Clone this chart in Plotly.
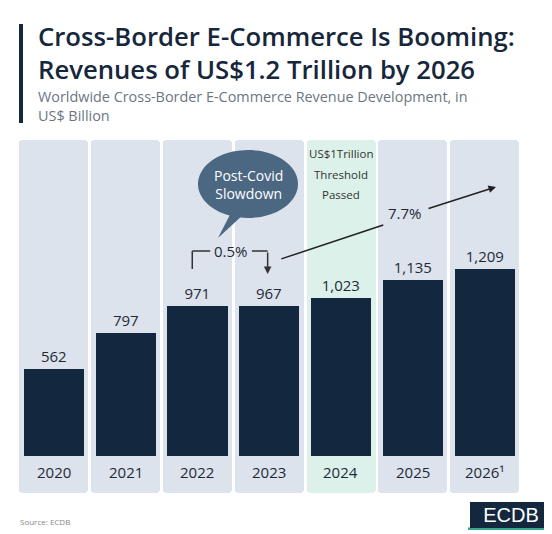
import plotly.graph_objects as go
import numpy as np

# the page puts the figure 8px in from the top-left corner
OFF = 8
W, H = 552 - OFF, 534 - OFF

years = ["2020", "2021", "2022", "2023", "2024", "2025", "2026"]
year_labels = ["2020", "2021", "2022", "2023", "2024", "2025", "2026¹"]
revenue = [562, 797, 971, 967, 1023, 1135, 1209]
highlight_year = "2024"

title = "Cross-Border E-Commerce Is Booming:<br>Revenues of US$1.2 Trillion by 2026"
subtitle = "Worldwide Cross-Border E-Commerce Revenue Development, in<br>US$ Billion"

NAVY = "#13273f"
COL_BG = "#dde3ec"
COL_HI = "#dcf1e9"
TXT = "#1f2a36"

# axis ranges chosen so the columns fill the same pixel box as the original
y_lo, y_hi = -239, 2041


def px(x, y):
    # screen pixel -> paper (margins are zero so paper == whole figure)
    return (x - OFF) / W, 1 - (y - OFF) / H


fig = go.Figure()

# light background columns
col_colors = [COL_HI if y == highlight_year else COL_BG for y in years]
fig.add_trace(go.Bar(
    x=years, y=[y_hi - y_lo] * len(years), base=y_lo, width=0.96,
    marker=dict(color=col_colors, line=dict(width=0)),
    hoverinfo="skip",
))

# revenue bars
fig.add_trace(go.Bar(
    x=years, y=revenue, width=0.84,
    marker=dict(color=NAVY, line=dict(width=0)),
    texttemplate="%{y:,}", textposition="outside",
    textfont=dict(family="Open Sans", size=15, color=TXT),
    cliponaxis=False,
))

ann = []
# year labels inside the columns
for i, lab in enumerate(year_labels):
    ann.append(dict(x=i, y=-103, xref="x", yref="y", text=lab, showarrow=False,
                    font=dict(family="Open Sans", size=15, color=TXT)))

# threshold note in the 2024 column
for txt, yy in [("US$1Trillion", 154), ("Threshold", 175), ("Passed", 195)]:
    ann.append(dict(x=years.index(highlight_year), y=(456 - yy) / 0.1548, xref="x", yref="y",
                    text=txt, showarrow=False,
                    font=dict(family="Open Sans", size=11.5, color="#333333")))

# 0.5% bracket 2022 -> 2023
shapes = []
line_style = dict(color="#333333", width=1.5)
shapes.append(dict(type="line", xref="x", yref="y", x0=1.93, y0=1208, x1=1.93, y1=1324, line=line_style))
shapes.append(dict(type="line", xref="x", yref="y", x0=1.93, y0=1324, x1=2.18, y1=1324, line=line_style))
shapes.append(dict(type="line", xref="x", yref="y", x0=2.76, y0=1324, x1=2.98, y1=1324, line=line_style))
ann.append(dict(x=2.98, y=1176, ax=2.98, ay=1324, xref="x", yref="y", axref="x", ayref="y",
                text="", showarrow=True, arrowhead=2, arrowsize=1, arrowwidth=1.5, arrowcolor="#333333"))
ann.append(dict(x=2.47, y=1324, xref="x", yref="y", text="0.5%", showarrow=False,
                font=dict(family="Open Sans", size=15, color=TXT)))

# 7.7% growth arrow 2023 -> 2026
shapes.append(dict(type="line", xref="x", yref="y", x0=3.17, y0=1273, x1=4.59, y1=1492,
                   line=dict(color="#222222", width=1.5)))
ann.append(dict(x=6.16, y=1738, ax=5.2, ay=1596, xref="x", yref="y", axref="x", ayref="y",
                text="", showarrow=True, arrowhead=2, arrowsize=1, arrowwidth=1.5, arrowcolor="#222222"))
ann.append(dict(x=4.89, y=1570, xref="x", yref="y", text="7.7%", showarrow=False,
                font=dict(family="Open Sans", size=15, color=TXT)))

# speech bubble
t = np.linspace(0.62 * np.pi, 2.55 * np.pi, 80)
cx, cy, rx, ry = 248, 184, 50, 34
pts = [px(cx + rx * np.cos(a), cy + ry * np.sin(a)) for a in t]
pts = pts + [px(218, 238)]
path = "M " + " L ".join(f"{a:.4f},{b:.4f}" for a, b in pts) + " Z"
shapes.append(dict(type="path", xref="paper", yref="paper", path=path,
                   fillcolor="#4b6782", line=dict(width=0)))
ann.append(dict(x=px(cx, 0)[0], y=px(0, 184)[1], xref="paper", yref="paper",
                text="Post-Covid<br>Slowdown", showarrow=False,
                font=dict(family="Open Sans", size=14, color="white")))

# title block
shapes.append(dict(type="rect", xref="paper", yref="paper",
                   x0=px(19, 0)[0], x1=px(23, 0)[0], y0=px(0, 123)[1], y1=px(0, 24)[1],
                   fillcolor=NAVY, line=dict(width=0)))
ann.append(dict(x=px(36, 0)[0], y=px(0, 53)[1], xref="paper", yref="paper", text=title,
                showarrow=False, xanchor="left", yanchor="middle", align="left",
                font=dict(family="Open Sans", size=25.7, color="#16263b", weight=600)))
ann.append(dict(x=px(36, 0)[0], y=px(0, 106)[1], xref="paper", yref="paper", text=subtitle,
                showarrow=False, xanchor="left", yanchor="middle", align="left",
                font=dict(family="Open Sans", size=14.4, color="#6b7684")))

# footer
ann.append(dict(x=px(18, 0)[0], y=px(0, 521)[1], xref="paper", yref="paper", text="Source: ECDB",
                showarrow=False, xanchor="left", yanchor="middle",
                font=dict(family="Open Sans", size=8, color="#888888")))
shapes.append(dict(type="rect", xref="paper", yref="paper",
                   x0=px(468, 0)[0], x1=1, y0=px(0, 530)[1], y1=px(0, 527.5)[1],
                   fillcolor="#3aa58c", line=dict(width=0)))
ann.append(dict(x=1, y=px(0, 527.5)[1], xref="paper", yref="paper", text="ECDB",
                xanchor="right", yanchor="bottom", width=82, height=26, borderpad=0, borderwidth=0,
                bgcolor=NAVY, showarrow=False,
                font=dict(family="Liberation Sans", size=20, color="white")))

fig.update_layout(
    width=W, height=H,
    margin=dict(l=0, r=0, t=0, b=0),
    paper_bgcolor="white", plot_bgcolor="white",
    barmode="overlay", barcornerradius=4, bargap=0,
    showlegend=False,
    xaxis=dict(type="category", domain=[px(17.8, 0)[0], px(520.4, 0)[0]], range=[-0.5, 6.5], visible=False),
    yaxis=dict(domain=[px(0, 493)[1], px(0, 140)[1]], range=[y_lo, y_hi], visible=False),
    annotations=ann, shapes=shapes,
)

fig.write_html("out.html")
